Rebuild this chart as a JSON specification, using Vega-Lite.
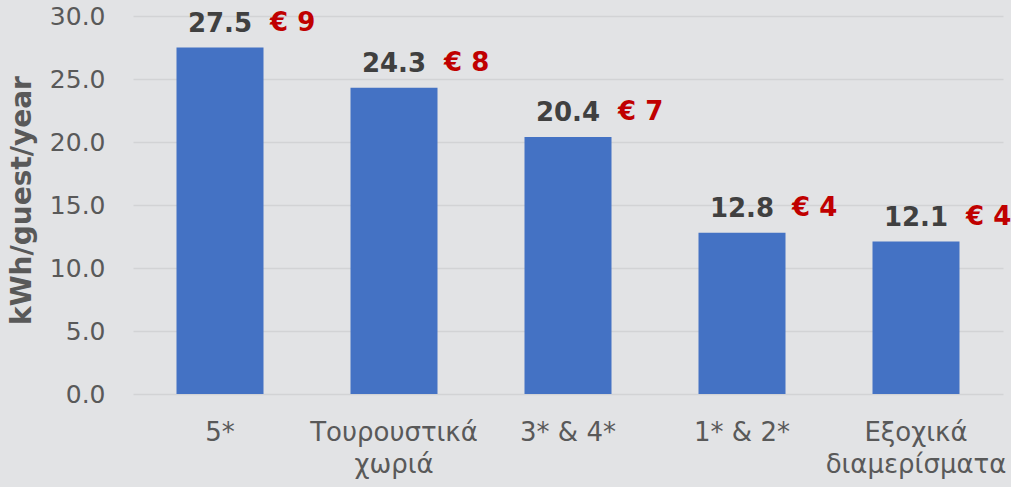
{
  "$schema": "https://vega.github.io/schema/vega-lite/v6.json",
  "width": 870,
  "height": 378,
  "autosize": "none",
  "padding": {"left": 133, "top": 16, "right": 8, "bottom": 93},
  "background": "#e2e3e5",
  "config": {
    "view": {"stroke": null},
    "font": "DejaVu Sans"
  },
  "data": {
    "values": [
      {"category": "5*", "kwh": 27.5, "cost": "€ 9"},
      {"category": "Τουρουστικά χωριά", "kwh": 24.3, "cost": "€ 8"},
      {"category": "3* & 4*", "kwh": 20.4, "cost": "€ 7"},
      {"category": "1* & 2*", "kwh": 12.8, "cost": "€ 4"},
      {"category": "Εξοχικά διαμερίσματα", "kwh": 12.1, "cost": "€ 4"}
    ]
  },
  "encoding": {
    "x": {
      "field": "category",
      "type": "nominal",
      "sort": null,
      "scale": {"paddingInner": 0.5, "paddingOuter": 0.25},
      "axis": {
        "title": null,
        "labelAngle": 0,
        "labelFontSize": 26,
        "labelColor": "#595959",
        "labelPadding": 25,
        "labelLineHeight": 32,
        "labelExpr": "datum.value == 'Τουρουστικά χωριά' ? ['Τουρουστικά', 'χωριά'] : datum.value == 'Εξοχικά διαμερίσματα' ? ['Εξοχικά', 'διαμερίσματα'] : datum.value",
        "domain": false,
        "ticks": false,
        "labelLimit": 400,
        "labelOverlap": false
      }
    },
    "y": {
      "field": "kwh",
      "type": "quantitative",
      "scale": {"domain": [0, 30]},
      "axis": {
        "title": "kWh/guest/year",
        "titleFontSize": 28,
        "titleFontWeight": "bold",
        "titleColor": "#595959",
        "titleX": -111,
        "titleY": 184,
        "titleAlign": "center",
        "titleBaseline": "middle",
        "values": [0, 5, 10, 15, 20, 25, 30],
        "format": ".1f",
        "labelFontSize": 25,
        "labelColor": "#595959",
        "labelPadding": 28,
        "domain": false,
        "ticks": false,
        "gridColor": "#d2d3d5",
        "gridWidth": 1.5
      }
    }
  },
  "layer": [
    {"mark": {"type": "bar", "color": "#4472c4"}},
    {
      "mark": {"type": "text", "fontSize": 26, "fontWeight": "bold", "color": "#404040", "baseline": "alphabetic", "dy": -16},
      "encoding": {"text": {"field": "kwh", "type": "quantitative", "format": ".1f"}}
    },
    {
      "mark": {"type": "text", "fontSize": 26, "fontWeight": "bold", "color": "#c00000", "baseline": "alphabetic", "align": "left", "dx": 50, "dy": -17},
      "encoding": {"text": {"field": "cost", "type": "nominal"}}
    }
  ]
}
